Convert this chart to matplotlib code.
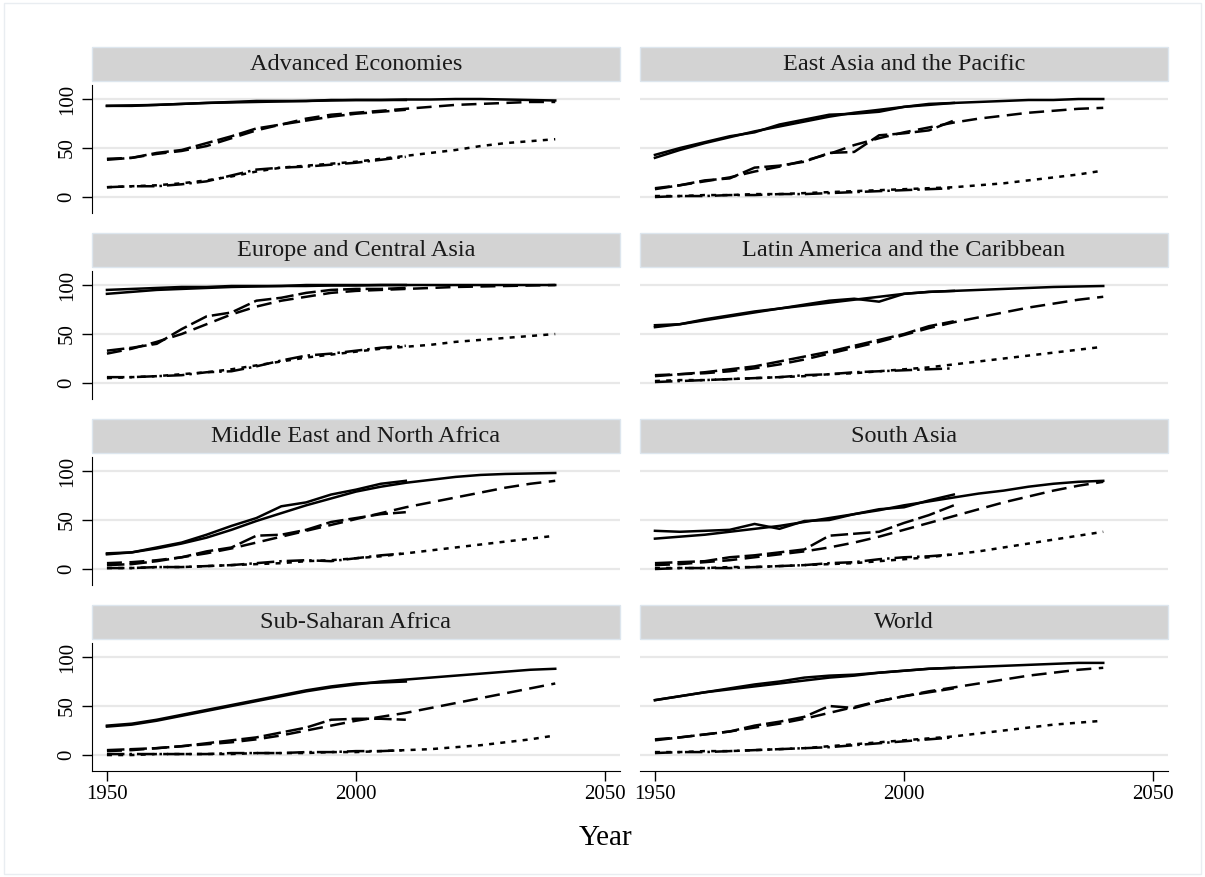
import matplotlib
matplotlib.use("Agg")
import matplotlib.pyplot as plt
from matplotlib.patches import Rectangle

plt.rcParams['font.family'] = ['Liberation Serif', 'DejaVu Serif']

regions = ['Advanced Economies', 'East Asia and the Pacific',
           'Europe and Central Asia', 'Latin America and the Caribbean',
           'Middle East and North Africa', 'South Asia',
           'Sub-Saharan Africa', 'World']

proj_years = [1950, 1955, 1960, 1965, 1970, 1975, 1980, 1985, 1990, 1995,
              2000, 2005, 2010, 2015, 2020, 2025, 2030, 2035, 2040]
obs_years = [1950, 1955, 1960, 1965, 1970, 1975, 1980, 1985, 1990, 1995,
             2000, 2005, 2010]

# projections 1950-2040 (solid / long dash / short dash)
primary_proj = [
    [93, 93.5, 94, 95, 96, 96.5, 97, 97.5, 98, 98.5, 99, 99, 99.5, 99.5, 100, 100, 99.5, 99, 98.5],
    [40, 48, 55, 61, 67, 72, 77, 82, 86, 89, 92, 94, 96, 97, 98, 99, 99, 100, 100],
    [91, 93, 95, 96, 97, 98, 98.5, 99, 99, 99.5, 99.5, 100, 100, 100, 100, 100, 100, 100, 100],
    [57, 60, 64, 68, 72, 76, 79, 82, 85, 88, 91, 93, 94, 95, 96, 97, 98, 98.5, 99],
    [15, 17, 21, 26, 32, 40, 49, 57, 65, 72, 79, 84, 88, 91, 94, 96, 97, 97.5, 98],
    [31, 33, 35, 38, 41, 44, 48, 52, 56, 60, 65, 69, 73, 77, 80, 84, 87, 89, 90],
    [29, 31, 35, 40, 45, 50, 55, 60, 65, 69, 72, 75, 77, 79, 81, 83, 85, 87, 88],
    [56, 60, 64, 67, 70, 73, 76, 79, 81, 84, 86, 88, 89, 90, 91, 92, 93, 94, 94],
]
secondary_proj = [
    [39, 40, 44, 47, 52, 60, 68, 74, 80, 84, 86, 88, 90, 92, 94, 95, 96, 97, 97],
    [9, 12, 16, 20, 26, 31, 37, 44, 53, 60, 66, 71, 76, 80, 83, 86, 88, 90, 91],
    [30, 35, 42, 50, 60, 70, 78, 84, 88, 92, 94, 95, 96, 97, 98, 98.5, 99, 99.5, 100],
    [8, 9, 10, 12, 15, 19, 24, 30, 36, 42, 49, 56, 62, 67, 72, 77, 81, 85, 88],
    [6, 7, 9, 12, 16, 21, 27, 33, 39, 45, 51, 57, 63, 68, 73, 78, 83, 87, 90],
    [4, 5, 7, 9, 12, 15, 18, 22, 27, 33, 40, 47, 54, 61, 68, 74, 80, 85, 89],
    [4, 5, 7, 9, 11, 13, 16, 20, 25, 30, 35, 39, 43, 48, 53, 58, 63, 68, 73],
    [16, 18, 21, 24, 28, 32, 37, 43, 49, 55, 60, 65, 69, 73, 77, 81, 84, 87, 89],
]
tertiary_proj = [
    [10, 11, 12, 14, 17, 21, 26, 30, 32, 34, 36, 39, 42, 45, 48, 52, 55, 57, 59],
    [1, 1, 2, 2, 3, 3, 4, 5, 6, 7, 8, 9, 10, 12, 14, 17, 20, 23, 27],
    [5, 6, 7, 9, 11, 14, 18, 22, 26, 29, 32, 35, 37, 39, 42, 44, 46, 48, 50],
    [2, 3, 3, 4, 5, 6, 7, 9, 10, 12, 14, 16, 19, 22, 25, 28, 31, 34, 37],
    [1, 1, 2, 2, 3, 4, 5, 6, 8, 9, 11, 13, 16, 19, 22, 25, 28, 31, 34],
    [1, 1, 1, 2, 2, 3, 4, 5, 6, 8, 10, 12, 15, 18, 22, 26, 30, 34, 38],
    [0, 0, 1, 1, 1, 1, 2, 2, 2, 3, 3, 4, 5, 6, 8, 10, 13, 16, 20],
    [3, 3, 4, 4, 5, 6, 7, 9, 11, 13, 15, 17, 19, 22, 25, 28, 31, 33, 35],
]

# observed 1950-2010 (solid / long dash / dash-dot)
primary_obs = [
    [93, 93, 94, 95, 96, 97, 98, 98, 98, 99, 99, 99, 99],
    [43, 50, 56, 62, 66, 74, 79, 84, 85, 87, 92, 95, 96],
    [95, 96, 97, 98, 98, 99, 99, 99, 100, 100, 100, 100, 100],
    [59, 60, 65, 69, 73, 76, 80, 84, 86, 83, 91, 93, 94],
    [16, 17, 22, 27, 35, 44, 52, 64, 68, 76, 81, 87, 90],
    [39, 38, 39, 40, 46, 41, 49, 50, 56, 61, 63, 70, 76],
    [30, 32, 36, 41, 46, 51, 56, 61, 66, 70, 73, 74, 75],
    [56, 60, 64, 68, 72, 75, 79, 81, 82, 84, 86, 88, 89],
]
secondary_obs = [
    [38, 40, 45, 48, 55, 62, 70, 74, 78, 82, 85, 87, 89],
    [8, 12, 17, 19, 30, 32, 36, 45, 46, 63, 65, 68, 78],
    [33, 36, 40, 55, 68, 72, 84, 87, 92, 95, 96, 96, 97],
    [7, 9, 11, 14, 17, 22, 27, 32, 38, 44, 50, 58, 63],
    [4, 5, 8, 12, 18, 22, 34, 35, 40, 48, 52, 56, 58],
    [6, 7, 8, 12, 14, 17, 20, 34, 36, 38, 47, 55, 65],
    [5, 6, 7, 9, 12, 15, 18, 23, 28, 36, 37, 37, 36],
    [15, 18, 21, 24, 30, 34, 39, 50, 48, 55, 60, 64, 68],
]
tertiary_obs = [
    [10, 11, 11, 13, 16, 22, 28, 30, 31, 33, 35, 38, 41],
    [0, 1, 1, 2, 2, 3, 3, 4, 5, 6, 7, 8, 9],
    [6, 6, 7, 8, 11, 12, 17, 23, 28, 30, 33, 36, 38],
    [1, 2, 3, 4, 5, 6, 8, 9, 11, 12, 13, 14, 15],
    [1, 1, 2, 2, 3, 4, 6, 8, 9, 8, 11, 14, 16],
    [0, 1, 1, 1, 2, 3, 4, 6, 7, 10, 12, 13, 15],
    [1, 1, 1, 1, 1, 2, 2, 2, 3, 3, 4, 4, 5],
    [2, 3, 3, 4, 5, 6, 7, 8, 10, 12, 14, 16, 18],
]

W, H = 1205, 877
fig = plt.figure(figsize=(W / 100, H / 100), dpi=100)
fig.patches.append(Rectangle((0.003, 0.003), 0.994, 0.994, transform=fig.transFigure,
                             fill=False, edgecolor='#e9edf1', lw=1.0))

col_x = [92, 640]
ax_w = 528
ax_h = 128
lw = 1.8

for i, name in enumerate(regions):
    row, col = divmod(i, 2)
    top = 85 + 186 * row
    ax = fig.add_axes([col_x[col] / W, 1 - (top + ax_h) / H, ax_w / W, ax_h / H])

    ax.set_xlim(1947, 2053)
    ax.set_ylim(-16.3, 114.3)
    ax.set_yticks([0, 50, 100])
    ax.set_xticks([1950, 2000, 2050])
    ax.grid(axis='y', color='#e8e8e8', lw=1.6)
    ax.set_axisbelow(True)

    for s in ['top', 'right']:
        ax.spines[s].set_visible(False)
    ax.spines['left'].set_visible(col == 0)
    ax.spines['bottom'].set_visible(row == 3)
    ax.tick_params(axis='y', length=7 if col == 0 else 0, width=1, labelsize=15,
                   labelleft=(col == 0), pad=4)
    ax.tick_params(axis='x', length=7 if row == 3 else 0, width=1, labelsize=15,
                   labelbottom=(row == 3), pad=3)
    for lab in ax.get_yticklabels():
        lab.set_rotation(90)
        lab.set_va('center')

    # observed
    ax.plot(obs_years, primary_obs[i], color='black', lw=lw)
    ax.plot(obs_years, secondary_obs[i], color='black', lw=lw, dashes=(7, 2))
    ax.plot(obs_years, tertiary_obs[i], color='black', lw=lw, dashes=(7, 2, 1, 2))
    # projections
    ax.plot(proj_years, primary_proj[i], color='black', lw=lw)
    ax.plot(proj_years, secondary_proj[i], color='black', lw=lw, dashes=(6, 3))
    ax.plot(proj_years, tertiary_proj[i], color='black', lw=lw, dashes=(2, 2.5))

    # title strip
    ax.add_patch(Rectangle((0, 1.031), 1, 0.262, transform=ax.transAxes,
                           facecolor='#d3d3d3', edgecolor='#dde6ee', lw=1,
                           clip_on=False))
    ax.text(0.5, 1.162, name, transform=ax.transAxes, ha='center', va='center',
            fontsize=17.5, color='#1a1a1a')

fig.text(606 / W, 1 - 838 / H, 'Year', ha='center', va='center', fontsize=21)

fig.savefig('out.png', dpi=100)
